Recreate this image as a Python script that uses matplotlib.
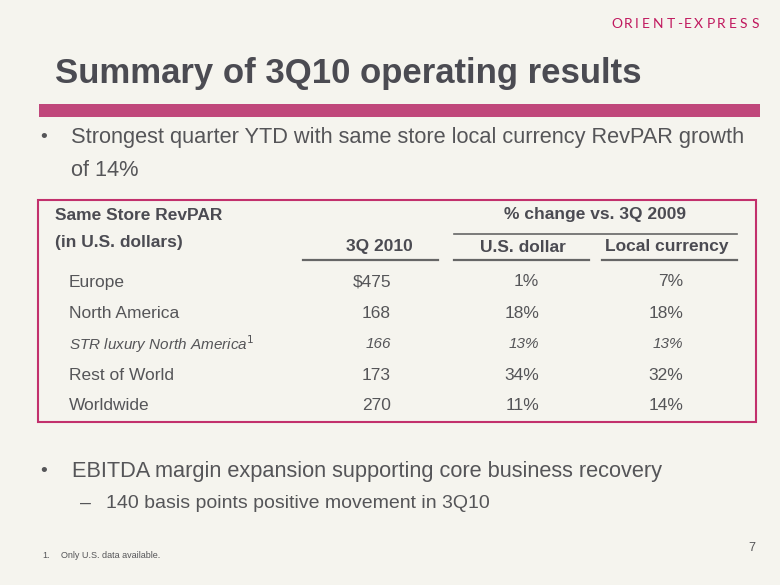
import matplotlib
matplotlib.use("Agg")
import matplotlib.pyplot as plt
from matplotlib.patches import Rectangle

title = "Summary of 3Q10 operating results"
bullet1 = ["Strongest quarter YTD with same store local currency RevPAR growth", "of 14%"]
bullet2 = "EBITDA margin expansion supporting core business recovery"
sub2 = "140 basis points positive movement in 3Q10"
footnote = "Only U.S. data available."
page_no = "7"
logo = "ORIENT-EXPRESS"

header_left = ["Same Store RevPAR", "(in U.S. dollars)"]
header_group = "% change vs. 3Q 2009"
col_heads = ["3Q 2010", "U.S. dollar", "Local currency"]

regions = ["Europe", "North America", "STR luxury North America", "Rest of World", "Worldwide"]
revpar_3q2010 = ["$475", "168", "166", "173", "270"]
chg_usd = ["1%", "18%", "13%", "34%", "11%"]
chg_local = ["7%", "18%", "13%", "32%", "14%"]
italic_rows = [False, False, True, False, False]

BG = "#F5F4EE"
GRAY = "#4B4B52"
TXT = "#555558"
PINK = "#C0477B"
BORDER = "#C2306C"
LOGO = "#C0185E"

fig = plt.figure(figsize=(7.8, 5.85), dpi=100, facecolor=BG)
ax = fig.add_axes([0, 0, 1, 1])
ax.set_xlim(0, 780)
ax.set_ylim(585, 0)
ax.axis("off")
ax.set_facecolor(BG)

FONT = "Liberation Sans"

# logo (letter-spaced)
logo_x = [617, 628.5, 637, 646, 658.5, 670.5, 679.5, 687.5, 698.5, 710.5, 721.5, 732.5, 743.5, 755]
for ch, x in zip(logo, logo_x):
    ax.text(x, 24.5, ch, color=LOGO, fontsize=10, family=["Lato", "DejaVu Sans"],
            fontweight="normal", ha="center", va="center")

# title
ax.text(55, 74, title, color=GRAY, fontsize=25, fontweight="bold", family=FONT,
        ha="left", va="center")
ax.add_patch(Rectangle((39, 104), 721, 13, color=PINK, lw=0))

# bullet 1
BFS = 15.7
ax.text(40, 138, "•", color=TXT, fontsize=14, family=FONT, va="center")
ax.text(71, 138, bullet1[0], color=TXT, fontsize=BFS, family=FONT, va="center")
ax.text(71, 171, bullet1[1], color=TXT, fontsize=BFS, family=FONT, va="center")

# table box
ax.add_patch(Rectangle((38, 200), 718, 222, fill=False, edgecolor=BORDER, lw=1.5))

hfs = 12.5
ax.text(55, 215, header_left[0], color=GRAY, fontsize=hfs, fontweight="bold", family=FONT, va="center")
ax.text(55, 243, header_left[1], color=GRAY, fontsize=hfs, fontweight="bold", family=FONT, va="center")
ax.text(595, 215, header_group, color=GRAY, fontsize=hfs, fontweight="bold", family=FONT,
        ha="center", va="center")
ax.plot([454, 737], [234, 234], color="#666", lw=1.2)
col_centers = [379, 523, 667]
col_lines = [(303, 438), (454, 589), (602, 737)]
for c, h, (x0, x1) in zip(col_centers, col_heads, col_lines):
    ax.text(c, 247, h, color=GRAY, fontsize=hfs, fontweight="bold", family=FONT, ha="center", va="center")
    ax.plot([x0, x1], [260, 260], color="#666", lw=1.6)

row_y = [282, 313, 344, 375, 406]
col_right = [391, 539, 683]
for y, r, a, b, c, it in zip(row_y, regions, revpar_3q2010, chg_usd, chg_local, italic_rows):
    style = "italic" if it else "normal"
    fs = 11 if it else 12.5
    lab = r + ("$^{1}$" if it else "")
    ax.text(69, y, lab, color=TXT, fontsize=fs, style=style, family=FONT, va="center")
    for x, v in zip(col_right, [a, b, c]):
        ax.text(x, y, v, color=TXT, fontsize=fs, style=style, family=FONT, ha="right", va="center")

# bullet 2
ax.text(40, 472, "•", color=TXT, fontsize=14, family=FONT, va="center")
ax.text(72, 472, bullet2, color=TXT, fontsize=BFS, family=FONT, va="center")
ax.text(85, 503, "–", color=TXT, fontsize=14, family=FONT, va="center", ha="center")
ax.text(106, 503, sub2, color=TXT, fontsize=14, family=FONT, va="center")

# footnote
ax.text(42, 556, "1.", color=TXT, fontsize=6.5, family=FONT, va="center")
ax.text(61, 556, footnote, color=TXT, fontsize=6.5, family=FONT, va="center")
ax.text(752, 548, page_no, color=TXT, fontsize=9, family=FONT, va="center", ha="center")

fig.savefig("out.png", dpi=100, facecolor=BG)
